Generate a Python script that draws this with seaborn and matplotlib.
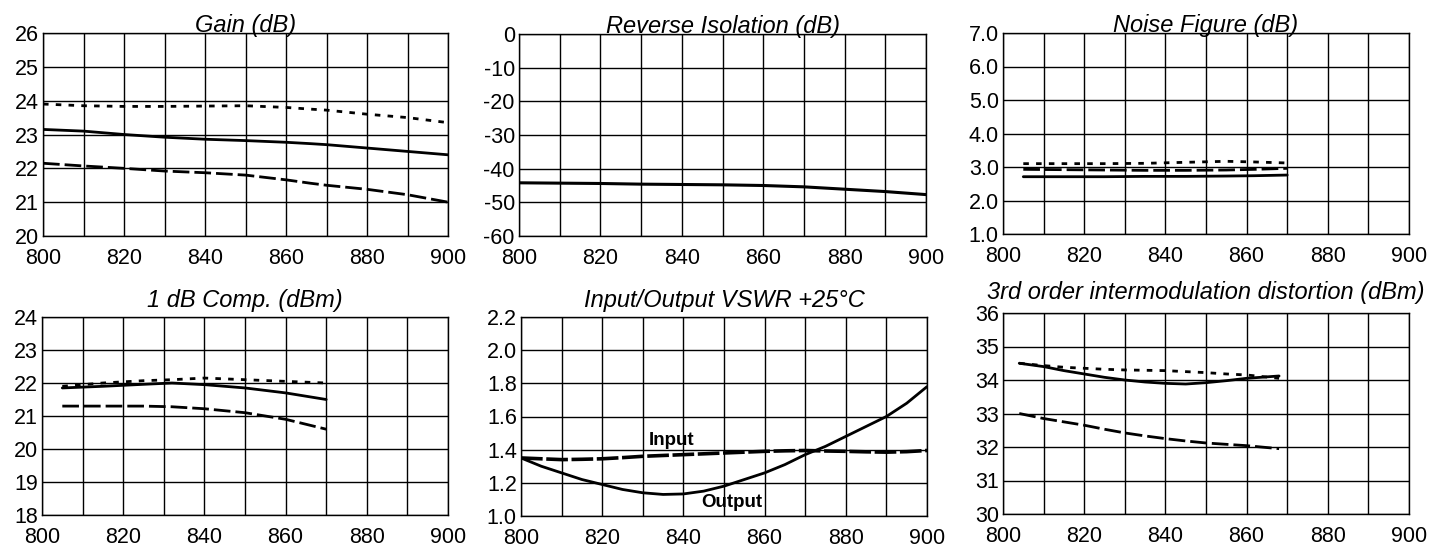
import matplotlib
matplotlib.use("Agg")
import matplotlib.pyplot as plt
import pandas as pd
import seaborn as sns
from matplotlib.ticker import MultipleLocator, FormatStrFormatter

# frequency (MHz) and curves
gain_freq = [800, 810, 820, 830, 840, 850, 860, 866, 870, 880, 890, 900]
gain_cold = [23.9, 23.85, 23.83, 23.83, 23.84, 23.85, 23.8, 23.75, 23.72, 23.6, 23.5, 23.35]
gain_room = [23.15, 23.1, 23.0, 22.92, 22.86, 22.82, 22.77, 22.73, 22.7, 22.6, 22.5, 22.4]
gain_hot = [22.15, 22.07, 22.0, 21.92, 21.87, 21.8, 21.66, 21.56, 21.5, 21.38, 21.22, 21.0]

iso_freq = [800, 810, 820, 830, 840, 850, 860, 870, 880, 890, 900]
iso_room = [-44.2, -44.3, -44.4, -44.6, -44.7, -44.8, -45.0, -45.4, -46.1, -46.8, -47.7]

nf_freq = [805, 815, 825, 835, 845, 855, 862, 870]
nf_cold = [3.1, 3.1, 3.1, 3.11, 3.14, 3.17, 3.15, 3.12]
nf_room = [2.71, 2.71, 2.71, 2.72, 2.72, 2.73, 2.74, 2.76]
nf_hot = [2.93, 2.92, 2.91, 2.9, 2.9, 2.91, 2.93, 2.96]

comp_freq = [805, 815, 825, 832, 840, 850, 860, 870]
comp_cold = [21.9, 22.0, 22.07, 22.1, 22.15, 22.1, 22.05, 22.0]
comp_room = [21.85, 21.9, 21.96, 22.0, 21.95, 21.85, 21.7, 21.5]
comp_hot = [21.3, 21.3, 21.3, 21.28, 21.22, 21.1, 20.9, 20.6]

vswr_freq = [800, 805, 810, 815, 820, 825, 830, 835, 840, 845, 850,
             855, 860, 865, 870, 875, 880, 885, 890, 895, 900]
vswr_input = [1.35, 1.345, 1.34, 1.342, 1.345, 1.352, 1.36, 1.365, 1.37, 1.375, 1.38,
              1.385, 1.39, 1.393, 1.395, 1.392, 1.39, 1.387, 1.385, 1.388, 1.395]
vswr_output = [1.35, 1.30, 1.26, 1.22, 1.19, 1.16, 1.14, 1.13, 1.133, 1.15, 1.18,
               1.22, 1.26, 1.31, 1.37, 1.42, 1.48, 1.54, 1.60, 1.68, 1.78]

imd_freq = [804, 810, 815, 820, 825, 830, 835, 840, 845, 850, 855, 860, 868]
imd_cold = [34.5, 34.43, 34.38, 34.35, 34.32, 34.3, 34.29, 34.28, 34.25, 34.22, 34.18, 34.15, 34.05]
imd_room = [34.5, 34.4, 34.28, 34.18, 34.08, 34.0, 33.94, 33.9, 33.88, 33.92, 33.98, 34.05, 34.12]
imd_hot = [33.0, 32.85, 32.75, 32.65, 32.53, 32.42, 32.33, 32.25, 32.18, 32.12, 32.08, 32.04, 31.95]

W, H = 1447, 550
SOLID = "-"
SHORT = (0, (2.0, 2.6))
LONG = (0, (6.0, 1.8))


def make_axes(fig, box, title, ylim, ystep, yfmt, title_pad):
    x0, y0, x1, y1 = box
    ax = fig.add_axes([x0 / W, 1 - y1 / H, (x1 - x0) / W, (y1 - y0) / H])
    ax.set_xlim(800, 900)
    ax.set_ylim(*ylim)
    ax.xaxis.set_major_locator(MultipleLocator(20))
    ax.xaxis.set_minor_locator(MultipleLocator(10))
    ax.yaxis.set_major_locator(MultipleLocator(ystep))
    ax.yaxis.set_major_formatter(FormatStrFormatter(yfmt))
    ax.grid(True, which="both", color="black", linewidth=1.0)
    ax.tick_params(which="both", length=0, labelsize=15.5, colors="black")
    ax.tick_params(axis="x", pad=8.5)
    ax.tick_params(axis="y", pad=3)
    for s in ax.spines.values():
        s.set_color("black")
        s.set_linewidth(1.0)
    ax.set_title(title, fontsize=17, fontstyle="italic", pad=title_pad, color="black")
    ax.set_xlabel("")
    ax.set_ylabel("")
    return ax


def draw(ax, freq, values, ls, lw=2.0):
    df = pd.DataFrame({"freq": freq, "val": values})
    sns.lineplot(data=df, x="freq", y="val", ax=ax, color="black",
                 linestyle=ls, linewidth=lw, sort=False)
    ax.set_xlabel("")
    ax.set_ylabel("")


def main():
    sns.set_style("white")
    plt.rcParams["font.family"] = ["Liberation Sans", "DejaVu Sans"]
    plt.rcParams["text.color"] = "black"
    fig = plt.figure(figsize=(W / 100, H / 100), dpi=100)

    ax = make_axes(fig, (43, 33, 448, 236), "Gain (dB)", (20, 26), 1, "%d", 1)
    draw(ax, gain_freq, gain_cold, SHORT)
    draw(ax, gain_freq, gain_room, SOLID)
    draw(ax, gain_freq, gain_hot, LONG)

    ax = make_axes(fig, (519, 34, 926, 236), "Reverse Isolation (dB)", (-60, 0), 10, "%d", 1)
    draw(ax, iso_freq, iso_room, SOLID, 2.2)

    ax = make_axes(fig, (1003, 33, 1409, 234), "Noise Figure (dB)", (1, 7), 1, "%.1f", 1)
    draw(ax, nf_freq, nf_cold, SHORT)
    draw(ax, nf_freq, nf_hot, LONG)
    draw(ax, nf_freq, nf_room, SOLID)

    ax = make_axes(fig, (42, 317, 448, 515), "1 dB Comp. (dBm)", (18, 24), 1, "%d", 7)
    draw(ax, comp_freq, comp_cold, SHORT)
    draw(ax, comp_freq, comp_room, SOLID)
    draw(ax, comp_freq, comp_hot, LONG)

    ax = make_axes(fig, (521, 317, 927, 516), "Input/Output VSWR +25\u00b0C", (1.0, 2.2), 0.2, "%.1f", 7)
    draw(ax, vswr_freq, vswr_output, SOLID, 2.0)
    draw(ax, vswr_freq, vswr_input, (0, (6.0, 1.0)), 2.6)
    ax.text(837, 1.455, "Input", fontsize=13.5, fontweight="bold", ha="center", va="center")
    ax.text(852, 1.084, "Output", fontsize=13.5, fontweight="bold", ha="center", va="center")

    ax = make_axes(fig, (1003, 313, 1409, 514), "3rd order intermodulation distortion (dBm)", (30, 36), 1, "%d", 10)
    draw(ax, imd_freq, imd_cold, SHORT)
    draw(ax, imd_freq, imd_room, SOLID)
    draw(ax, imd_freq, imd_hot, LONG)

    fig.savefig("out.png", dpi=100, facecolor="white")
    plt.close(fig)


if __name__ == "__main__":
    main()
